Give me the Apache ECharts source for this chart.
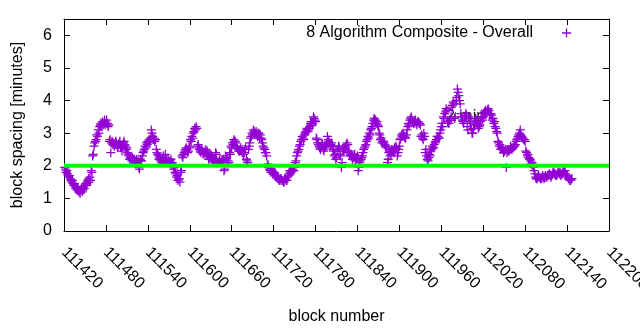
<!DOCTYPE html>
<html><head><meta charset="utf-8">
<script src="https://cdn.jsdelivr.net/npm/echarts@6/dist/echarts.min.js"></script>
<style>html,body{margin:0;padding:0;background:#fff}#c{width:640px;height:330px}</style>
</head><body><div id="c"></div>
<script>
const seriesName = '8 Algorithm Composite - Overall';
const xTitle = 'block number';
const yTitle = 'block spacing [minutes]';
const xMin = 111420, xMax = 112200, xInterval = 60;
const yMin = 0, yMax = 6.5, yInterval = 1;
const targetMinutes = 2;
const targetLabel = '2 min';
// one reading per block, consecutive blocks starting at firstBlock
const firstBlock = 111421;
const blockStep = 1;
const spacing = [
  1.95,1.9,1.8,1.85,1.75,1.7,1.65,1.7,1.6,1.55, 1.5,1.55,1.45,1.4,1.45,1.35,1.3,1.35,1.25,1.3,
  1.2,1.25,1.15,1.25,1.3,1.2,1.25,1.35,1.3,1.4, 1.45,1.4,1.5,1.55,1.6,1.5,1.65,1.55,1.85,1.8,
  2.3,2.35,2.6,2.7,2.75,2.8,2.95,2.9,3.1,3.0, 3.2,3.25,3.3,3.2,3.35,3.25,3.3,3.4,3.25,3.3,
  3.4,3.3,3.2,3.25,2.75,2.8,2.4,2.7,2.75,2.65, 2.7,2.6,2.65,2.75,2.7,2.6,2.55,2.65,2.7,2.75,
  2.55,2.6,2.45,2.6,2.7,2.75,2.65,2.6,2.5,2.55, 2.4,2.35,2.3,2.2,2.25,2.2,2.15,2.25,2.2,2.15,
  2.2,2.1,2.15,2.2,2.1,2.15,1.95,1.9,2.2,2.15, 2.15,2.3,2.4,2.45,2.5,2.6,2.55,2.7,2.65,2.75,
  2.75,2.8,2.7,2.85,3.1,3.0,2.9,2.8,2.85,2.75, 2.8,2.5,2.4,2.35,2.3,2.2,2.25,2.15,2.2,2.1,
  2.2,2.3,2.1,2.15,2.35,2.2,2.15,2.1,2.2,2.15, 2.1,2.15,2.2,2.05,2.1,2.0,1.9,1.95,1.8,1.75,
  1.65,1.7,1.55,1.6,1.6,1.5,1.8,1.85,2.3,2.25, 2.35,2.4,2.45,2.5,2.55,2.5,2.4,2.45,2.6,2.55,
  2.8,2.75,2.9,2.85,3.0,3.05,3.15,3.1,3.2,3.15, 2.6,2.65,2.55,2.5,2.45,2.4,2.5,2.45,2.35,2.4,
  2.4,2.45,2.5,2.4,2.45,2.3,2.2,2.25,2.35,2.3, 2.3,2.25,2.15,2.2,2.1,2.15,2.4,2.35,2.15,2.1,
  2.1,2.15,2.2,2.1,2.1,2.15,2.15,2.2,1.85,1.9, 2.3,2.2,2.25,2.1,2.15,2.1,2.4,2.35,2.6,2.55,
  2.7,2.65,2.8,2.75,2.75,2.7,2.6,2.55,2.5,2.45, 2.45,2.5,2.55,2.45,2.4,2.5,2.35,2.4,2.5,2.55,
  2.2,2.15,2.1,2.5,2.6,2.7,2.85,2.9,3.0,2.95, 3.1,3.05,2.95,3.0,3.05,2.95,2.9,3.0,3.0,2.85,
  2.95,2.85,2.8,2.7,2.6,2.55,2.5,2.4,2.4,2.3, 2.0,2.05,1.95,1.9,1.85,1.8,1.9,1.85,1.75,1.8,
  1.8,1.75,1.7,1.65,1.65,1.6,1.6,1.55,1.55,1.6, 1.6,1.55,1.55,1.5,1.5,1.6,1.6,1.55,1.55,1.65,
  1.7,1.75,1.85,1.8,1.8,1.85,1.9,1.85,1.85,1.95, 2.1,2.15,2.3,2.4,2.45,2.5,2.6,2.65,2.75,2.8,
  2.9,2.85,2.8,2.95,3.0,3.05,3.1,3.15,3.05,3.1, 3.15,3.2,3.3,3.35,3.25,3.3,3.5,3.45,3.4,3.35,
  2.85,2.8,2.7,2.65,2.6,2.55,2.5,2.6,2.7,2.65, 2.5,2.45,2.55,2.6,2.6,2.7,2.9,2.8,2.75,2.7,
  2.6,2.65,2.7,2.6,2.5,2.45,2.3,2.35,2.2,2.25, 2.45,2.5,2.6,2.55,2.35,2.3,1.95,2.1,2.5,2.45,
  2.55,2.5,2.6,2.65,2.7,2.65,2.4,2.45,2.3,2.35, 2.35,2.3,2.2,2.25,2.3,2.35,2.15,2.2,2.25,2.3,
  1.85,1.95,2.1,2.15,2.2,2.25,2.3,2.4,2.5,2.55, 2.6,2.65,2.75,2.8,2.9,2.85,3.0,2.95,3.1,3.15,
  3.2,3.3,3.4,3.45,3.35,3.4,3.3,3.35,3.25,3.2, 3.0,2.95,2.8,2.85,2.7,2.75,2.75,2.7,2.65,2.6,
  2.6,2.55,2.1,2.2,2.4,2.45,2.3,2.35,2.5,2.45, 2.45,2.4,2.55,2.5,2.6,2.55,2.3,2.4,2.5,2.6,
  2.8,2.85,2.95,2.9,3.0,2.95,2.9,2.85,2.85,2.95, 3.1,3.2,3.3,3.25,3.4,3.45,3.5,3.4,3.35,3.3,
  3.3,3.35,3.4,3.3,3.25,3.35,3.35,3.3,3.3,3.25, 2.9,2.95,2.85,2.8,3.0,2.9,2.4,2.5,2.3,2.2,
  2.15,2.25,2.35,2.3,2.45,2.5,2.6,2.55,2.55,2.65, 2.7,2.75,2.8,2.9,2.9,2.85,2.85,3.0,3.1,3.2,
  3.3,3.2,3.5,3.45,3.6,3.65,3.75,3.7,3.35,3.3, 3.3,3.4,3.4,3.5,3.8,3.85,3.95,3.9,3.45,3.5,
  4.0,4.1,4.35,4.25,4.15,4.0,3.9,3.6,3.5,3.4, 3.35,3.3,3.4,3.5,3.6,3.55,3.2,3.1,3.5,3.45,
  3.35,3.3,3.1,3.0,3.0,3.15,3.25,3.3,3.45,3.4, 3.3,3.25,3.15,3.2,3.25,3.35,3.5,3.45,3.4,3.5,
  3.6,3.65,3.7,3.6,3.65,3.7,3.75,3.7,3.55,3.6, 3.6,3.55,3.4,3.45,3.3,3.35,3.2,3.15,3.05,3.0,
  2.75,2.7,2.6,2.65,2.5,2.55,2.55,2.5,2.4,2.45, 2.45,2.5,1.95,2.4,2.5,2.45,2.45,2.5,2.6,2.55,
  2.5,2.55,2.55,2.6,2.6,2.65,2.75,2.8,2.85,2.9, 2.95,3.0,3.1,2.95,2.9,2.85,2.85,2.8,2.8,2.75,
  2.45,2.4,2.3,2.35,2.25,2.2,2.2,2.15,2.05,2.1, 2.0,1.95,1.85,1.75,1.65,1.6,1.6,1.65,1.7,1.65,
  1.65,1.6,1.6,1.65,1.7,1.65,1.6,1.65,1.7,1.65, 1.65,1.7,1.7,1.75,1.75,1.7,1.65,1.7,1.75,1.8,
  1.8,1.75,1.75,1.7,1.7,1.75,1.8,1.8,1.75,1.8, 1.7,1.75,1.75,1.8,1.8,1.85,1.85,1.75,1.7,1.7,
  1.65,1.6,1.6,1.55,1.55,1.6,1.6
];

const font = "'Liberation Sans', Arial, Helvetica, sans-serif";
const black = '#000000';
const plus = 'path://M0,4.3H10V5.7H0Z M4.3,0H5.7V10H4.3Z';
const points = spacing.map((v, i) => [firstBlock + i * blockStep, v]);

const axisLine = { show: true, onZero: false, lineStyle: { color: black, width: 1 } };
const axisTick = { show: true, inside: true, length: 6, lineStyle: { color: black, width: 1 } };

const chart = echarts.init(document.getElementById('c'), null, { renderer: 'canvas' });
chart.setOption({
  animation: false,
  backgroundColor: '#ffffff',
  textStyle: { fontFamily: font },
  grid: { left: 64, right: 31, top: 19, bottom: 99, containLabel: false, outerBoundsMode: 'none' },
  legend: {
    data: [{ name: seriesName, icon: plus }],
    right: 69, top: 25, align: 'right', padding: 0,
    itemWidth: 9, itemHeight: 9, selectedMode: false,
    textStyle: { fontSize: 16, color: black, fontFamily: font, padding: [0, 24, 0, 0] }
  },
  xAxis: [{
    type: 'value', min: xMin, max: xMax, interval: xInterval, position: 'bottom',
    axisLine, axisTick, splitLine: { show: false },
    axisLabel: { rotate: -45, margin: 19, fontSize: 16, color: black, fontFamily: font,
      formatter: v => String(v) },
    name: xTitle, nameLocation: 'middle', nameGap: 78,
    nameTextStyle: { fontSize: 16, color: black, fontFamily: font }
  }, {
    type: 'value', min: xMin, max: xMax, interval: xInterval, position: 'top',
    axisLine, axisTick, splitLine: { show: false }, axisLabel: { show: false }
  }],
  yAxis: [{
    type: 'value', min: yMin, max: yMax, interval: yInterval, position: 'left',
    axisLine, axisTick, splitLine: { show: false },
    axisLabel: { margin: 12, fontSize: 16, color: black, fontFamily: font, showMaxLabel: false },
    name: yTitle, nameLocation: 'middle', nameGap: 38, nameRotate: 90,
    nameTextStyle: { fontSize: 16, color: black, fontFamily: font }
  }, {
    type: 'value', min: yMin, max: yMax, interval: yInterval, position: 'right',
    axisLine, axisTick, splitLine: { show: false }, axisLabel: { show: false }
  }],
  series: [{
    type: 'scatter', name: seriesName, data: points,
    symbol: plus, symbolSize: 9,
    itemStyle: { color: '#9400d3', opacity: 1 }, z: 3
  }, {
    type: 'line', data: [[xMin, targetMinutes], [xMax, targetMinutes]],
    symbol: 'none', silent: true,
    lineStyle: { color: '#00ff00', width: 4 }, z: 4
  }],
  graphic: [{
    type: 'text', left: 446, top: 109, z: 0,
    style: { text: targetLabel, font: '16px ' + font, fill: '#222222' }
  }]
});
</script></body></html>
